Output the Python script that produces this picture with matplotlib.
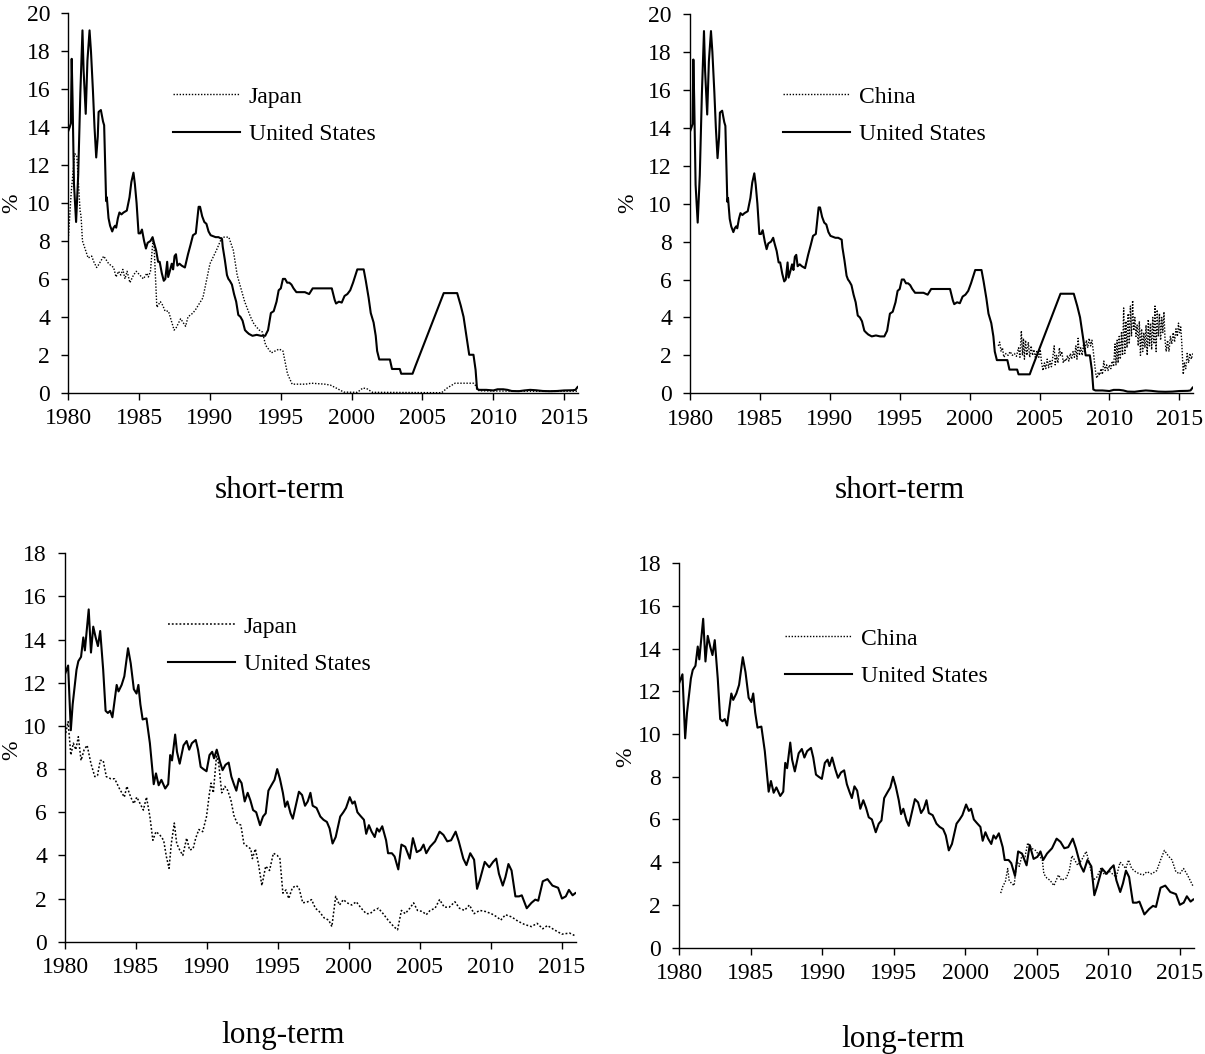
import matplotlib
matplotlib.use("Agg")
import matplotlib.pyplot as plt
import numpy as np

plt.rcParams['font.family'] = ['Liberation Serif', 'DejaVu Serif']

# ---------------- data (decimal years, %) ----------------
us_short_t = [1980.0, 1980.1, 1980.18, 1980.24, 1980.3, 1980.4, 1980.55, 1980.7, 1980.85, 1981.0,
              1981.08, 1981.23, 1981.35, 1981.5, 1981.6, 1981.74, 1981.85, 1981.97, 1982.08, 1982.14,
              1982.3, 1982.45, 1982.53, 1982.67, 1982.72, 1982.84, 1982.95, 1983.1, 1983.2, 1983.3,
              1983.38, 1983.5, 1983.61, 1983.75, 1983.9, 1984.13, 1984.32, 1984.45, 1984.6, 1984.7,
              1984.82, 1984.96, 1985.08, 1985.2, 1985.35, 1985.48, 1985.6, 1985.8, 1985.95, 1986.05,
              1986.2, 1986.34, 1986.45, 1986.6, 1986.74, 1986.85, 1986.98, 1987.05, 1987.2, 1987.3,
              1987.4, 1987.5, 1987.6, 1987.7, 1987.85, 1988.0, 1988.23, 1988.45, 1988.63, 1988.8,
              1989.0, 1989.2, 1989.3, 1989.45, 1989.6, 1989.75, 1989.9, 1990.05, 1990.4, 1990.6,
              1990.85, 1990.9, 1991.05, 1991.2, 1991.3, 1991.4, 1991.55, 1991.7, 1991.85, 1992.0,
              1992.15, 1992.3, 1992.47, 1992.6, 1992.75, 1993.0, 1993.3, 1993.6, 1993.9, 1994.1,
              1994.3, 1994.5, 1994.7, 1994.85, 1995.0, 1995.15, 1995.3, 1995.45, 1995.6, 1995.75,
              1995.9, 1996.1, 1996.4, 1996.7, 1997.0, 1997.25, 1997.6, 1998.0, 1998.3, 1998.6,
              1998.8, 1998.9, 1999.1, 1999.3, 1999.5, 1999.7, 1999.9, 2000.1, 2000.4, 2000.6,
              2000.85, 2001.0, 2001.2, 2001.35, 2001.55, 2001.7, 2001.8, 2001.95, 2002.3, 2002.7,
              2002.85, 2003.4, 2003.5, 2004.3, 2004.5, 2006.5, 2007.45, 2007.7, 2007.9, 2008.1,
              2008.3, 2008.6, 2008.75, 2008.85, 2009.0, 2009.5, 2010.0, 2010.3, 2010.7, 2011.0,
              2011.3, 2011.8, 2012.2, 2012.6, 2013.0, 2013.5, 2014.0, 2014.5, 2015.0, 2015.6,
              2015.8, 2015.95]
us_short_v = [13.8, 14.0, 14.2, 17.6, 15.5, 11.0, 9.0, 11.5, 15.8, 19.1,
              17.0, 14.7, 17.5, 19.1, 18.0, 15.9, 14.0, 12.4, 13.5, 14.8,
              14.9, 14.3, 14.1, 10.1, 10.3, 9.2, 8.8, 8.5, 8.7, 8.8,
              8.7, 9.2, 9.5, 9.4, 9.5, 9.6, 10.3, 11.1, 11.6, 11.0,
              10.0, 8.4, 8.4, 8.6, 8.0, 7.6, 7.9, 8.0, 8.2, 7.9,
              7.5, 6.9, 6.9, 6.3, 5.9, 6.0, 6.9, 6.1, 6.5, 6.8,
              6.5, 7.2, 7.3, 6.7, 6.8, 6.7, 6.6, 7.3, 7.8, 8.3,
              8.4, 9.8, 9.8, 9.3, 9.0, 8.9, 8.5, 8.3, 8.2, 8.2,
              8.1, 7.7, 7.0, 6.2, 6.0, 5.9, 5.7, 5.2, 4.8, 4.1,
              4.0, 3.8, 3.3, 3.2, 3.1, 3.0, 3.05, 3.0, 3.0, 3.3,
              4.2, 4.3, 4.8, 5.4, 5.5, 6.0, 6.0, 5.8, 5.8, 5.7,
              5.5, 5.3, 5.3, 5.3, 5.2, 5.5, 5.5, 5.5, 5.5, 5.5,
              4.9, 4.7, 4.8, 4.75, 5.1, 5.2, 5.4, 5.8, 6.5, 6.5,
              6.5, 5.9, 5.0, 4.2, 3.7, 3.0, 2.2, 1.75, 1.75, 1.75,
              1.25, 1.25, 1.0, 1.0, 1.4, 5.25, 5.25, 4.6, 4.0, 3.0,
              2.0, 2.0, 1.2, 0.2, 0.15, 0.15, 0.12, 0.18, 0.18, 0.15,
              0.09, 0.08, 0.12, 0.15, 0.13, 0.09, 0.08, 0.09, 0.12, 0.13,
              0.15, 0.3]

jp_short_t = [1980.0, 1980.2, 1980.45, 1980.6, 1980.83, 1980.9, 1981.0, 1981.4, 1981.65, 1981.8,
              1982.0, 1982.1, 1982.5, 1982.85, 1983.2, 1983.37, 1983.55, 1983.7, 1983.85, 1984.0,
              1984.15, 1984.35, 1984.6, 1984.8, 1985.3, 1985.55, 1985.65, 1985.8, 1985.97, 1986.05,
              1986.25, 1986.5, 1986.67, 1986.83, 1987.07, 1987.47, 1987.6, 1987.93, 1988.28, 1988.45,
              1988.8, 1989.0, 1989.5, 1990.0, 1990.45, 1990.85, 1991.33, 1991.65, 1991.92, 1992.45,
              1992.86, 1993.12, 1993.48, 1993.7, 1993.93, 1994.33, 1994.88, 1995.15, 1995.47, 1995.8,
              1996.75, 1997.15, 1998.1, 1998.5, 1998.9, 1999.45, 2000.4, 2000.8, 2001.1, 2001.47,
              2006.35, 2006.75, 2007.3, 2008.6, 2008.85, 2009.0, 2010.0, 2012.0, 2014.0, 2016.0]
jp_short_v = [8.1, 10.5, 12.6, 12.5, 9.6, 9.3, 8.0, 7.1, 7.2, 6.9,
              6.6, 6.7, 7.2, 6.8, 6.6, 6.1, 6.4, 6.2, 6.5, 6.0,
              6.4, 5.8, 6.2, 6.4, 6.0, 6.3, 6.1, 6.4, 8.0, 7.8,
              4.5, 4.8, 4.6, 4.3, 4.3, 3.3, 3.4, 3.9, 3.5, 4.0,
              4.2, 4.4, 5.0, 6.8, 7.5, 8.2, 8.2, 7.5, 6.2, 4.8,
              4.0, 3.6, 3.3, 3.2, 2.5, 2.1, 2.3, 2.2, 1.0, 0.45,
              0.45, 0.5, 0.45, 0.4, 0.25, 0.03, 0.02, 0.25, 0.2, 0.02,
              0.0, 0.25, 0.5, 0.5, 0.3, 0.1, 0.09, 0.08, 0.07, 0.08]

cn_short_t = [2002.05, 2002.15, 2002.25, 2002.35, 2002.45, 2002.6, 2002.75, 2002.9, 2003.05, 2003.2,
              2003.35, 2003.5, 2003.6, 2003.7, 2003.78, 2003.85, 2003.92, 2004.0, 2004.1, 2004.2,
              2004.3, 2004.4, 2004.5, 2004.6, 2004.7, 2004.8, 2004.95, 2005.05, 2005.15, 2005.25,
              2005.35, 2005.45, 2005.55, 2005.65, 2005.75, 2005.85, 2005.95, 2006.05, 2006.12, 2006.22,
              2006.32, 2006.42, 2006.5, 2006.6, 2006.7, 2006.8, 2006.9, 2007.0, 2007.1, 2007.2,
              2007.3, 2007.4, 2007.5, 2007.6, 2007.68, 2007.76, 2007.85, 2007.95, 2008.05, 2008.15,
              2008.25, 2008.35, 2008.45, 2008.55, 2008.65, 2008.75, 2008.85, 2008.95, 2009.05, 2009.12,
              2009.2, 2009.3, 2009.4, 2009.5, 2009.6, 2009.7, 2009.8, 2009.9, 2010.0, 2010.1,
              2010.2, 2010.3, 2010.4, 2010.47, 2010.55, 2010.62, 2010.7, 2010.78, 2010.86, 2010.94,
              2011.02, 2011.1, 2011.18, 2011.26, 2011.34, 2011.42, 2011.5, 2011.58, 2011.66, 2011.74,
              2011.82, 2011.9, 2011.98, 2012.06, 2012.14, 2012.22, 2012.3, 2012.38, 2012.46, 2012.54,
              2012.62, 2012.7, 2012.78, 2012.86, 2012.94, 2013.02, 2013.1, 2013.18, 2013.26, 2013.34,
              2013.42, 2013.5, 2013.58, 2013.66, 2013.74, 2013.82, 2013.9, 2013.98, 2014.06, 2014.16,
              2014.26, 2014.36, 2014.46, 2014.56, 2014.66, 2014.76, 2014.86, 2014.94, 2015.02, 2015.1,
              2015.18, 2015.28, 2015.36, 2015.46, 2015.56, 2015.66, 2015.76, 2015.86, 2015.96]
cn_short_v = [2.5, 2.7, 2.2, 2.4, 1.9, 2.1, 2.0, 2.2, 2.0, 2.1,
              1.95, 2.4, 1.9, 3.3, 2.0, 2.9, 1.8, 2.8, 2.0, 2.7,
              1.9, 2.5, 2.0, 2.3, 1.9, 2.2, 1.9, 2.3, 1.6, 1.2,
              1.6, 1.3, 1.8, 1.35, 1.7, 1.4, 1.9, 2.5, 1.5, 2.0,
              1.6, 2.4, 2.0, 2.2, 1.6, 1.8, 1.7, 2.0, 1.7, 2.1,
              1.8, 2.2, 1.9, 2.5, 1.8, 2.9, 2.0, 2.4, 2.0, 2.6,
              2.2, 2.8, 2.4, 2.9, 2.5, 2.8, 2.2, 1.5, 0.9, 0.8,
              1.1, 0.95, 1.3, 1.0, 1.7, 1.2, 1.5, 1.2, 1.5, 1.3,
              1.7, 1.4, 2.6, 1.5, 2.8, 1.6, 3.0, 1.8, 3.2, 2.0,
              4.5, 2.1, 3.8, 2.4, 4.2, 2.6, 4.6, 3.0, 4.9, 3.3,
              4.0, 3.0, 3.6, 2.5, 3.8, 2.0, 3.4, 2.2, 3.2, 2.4,
              3.6, 2.0, 3.9, 2.5, 3.7, 2.3, 4.0, 2.6, 4.6, 2.2,
              4.4, 3.0, 4.2, 2.8, 4.0, 3.2, 4.3, 2.8, 2.2, 2.8,
              2.2, 3.0, 2.6, 3.2, 2.7, 3.4, 3.0, 3.7, 3.2, 3.5,
              2.6, 1.0, 1.6, 1.3, 2.1, 1.6, 2.1, 1.8, 2.1]

us_long_t = [1980.0, 1980.22, 1980.41, 1980.54, 1980.81, 1980.94, 1981.13, 1981.29, 1981.4, 1981.67,
             1981.83, 1981.99, 1982.16, 1982.32, 1982.48, 1982.69, 1982.86, 1983.02, 1983.18, 1983.34,
             1983.64, 1983.77, 1983.99, 1984.18, 1984.44, 1984.63, 1984.85, 1985.04, 1985.17, 1985.31,
             1985.47, 1985.74, 1985.98, 1986.25, 1986.41, 1986.6, 1986.79, 1987.06, 1987.27, 1987.41,
             1987.54, 1987.76, 1987.89, 1988.08, 1988.35, 1988.57, 1988.75, 1988.94, 1989.21, 1989.37,
             1989.56, 1989.75, 1989.97, 1990.18, 1990.37, 1990.5, 1990.69, 1990.91, 1991.1, 1991.31,
             1991.53, 1991.72, 1991.9, 1992.07, 1992.25, 1992.44, 1992.66, 1992.87, 1993.06, 1993.25,
             1993.47, 1993.74, 1993.95, 1994.14, 1994.33, 1994.54, 1994.76, 1994.95, 1995.14, 1995.35,
             1995.51, 1995.67, 1995.89, 1996.05, 1996.29, 1996.48, 1996.7, 1996.91, 1997.1, 1997.29,
             1997.45, 1997.72, 1997.99, 1998.21, 1998.45, 1998.64, 1998.85, 1999.07, 1999.39, 1999.61,
             1999.8, 2000.06, 2000.25, 2000.41, 2000.6, 2000.79, 2001.06, 2001.22, 2001.41, 2001.6,
             2001.82, 2001.98, 2002.14, 2002.35, 2002.62, 2002.76, 2003.03, 2003.22, 2003.48, 2003.7,
             2003.97, 2004.29, 2004.51, 2004.78, 2005.05, 2005.26, 2005.45, 2005.72, 2006.07, 2006.39,
             2006.66, 2006.93, 2007.2, 2007.52, 2007.74, 2008.06, 2008.28, 2008.55, 2008.82, 2009.03,
             2009.22, 2009.57, 2009.89, 2010.16, 2010.38, 2010.57, 2010.84, 2011.03, 2011.24, 2011.46,
             2011.73, 2011.99, 2012.18, 2012.53, 2012.86, 2013.13, 2013.34, 2013.66, 2013.99, 2014.34,
             2014.74, 2015.01, 2015.28, 2015.5, 2015.76, 2015.95]
us_long_v = [12.4, 12.8, 9.8, 11.0, 12.6, 13.0, 13.2, 14.1, 13.5, 15.4,
             13.4, 14.6, 14.1, 13.7, 14.4, 12.6, 10.7, 10.6, 10.7, 10.4,
             11.9, 11.6, 11.9, 12.3, 13.6, 12.9, 11.7, 11.5, 11.9, 11.0,
             10.3, 10.35, 9.2, 7.3, 7.8, 7.25, 7.5, 7.1, 7.3, 8.65,
             8.4, 9.6, 8.8, 8.25, 9.1, 9.3, 8.9, 9.2, 9.35, 8.9,
             8.1, 8.0, 7.9, 8.65, 8.8, 8.5, 8.9, 8.35, 7.95, 8.2,
             8.3, 7.65, 7.3, 7.0, 7.55, 7.35, 6.5, 6.9, 6.55, 6.1,
             6.0, 5.4, 5.8, 5.95, 7.0, 7.25, 7.5, 8.0, 7.55, 6.9,
             6.25, 6.5, 5.95, 5.7, 6.4, 6.95, 6.8, 6.3, 6.5, 6.9,
             6.3, 6.2, 5.8, 5.65, 5.55, 5.25, 4.55, 4.85, 5.8, 6.0,
             6.2, 6.7, 6.4, 6.5, 6.0, 5.85, 5.65, 5.0, 5.4, 5.1,
             4.85, 5.25, 5.1, 5.35, 4.7, 4.1, 4.1, 3.95, 3.35, 4.5,
             4.4, 3.85, 4.8, 4.15, 4.25, 4.5, 4.1, 4.4, 4.65, 5.1,
             4.95, 4.65, 4.7, 5.1, 4.65, 3.85, 3.55, 4.1, 3.8, 2.45,
             2.85, 3.7, 3.45, 3.7, 3.85, 3.15, 2.6, 3.0, 3.6, 3.3,
             2.1, 2.1, 2.15, 1.55, 1.8, 1.95, 1.9, 2.8, 2.9, 2.6,
             2.5, 2.0, 2.1, 2.4, 2.15, 2.25]

jp_long_t = [1980.0, 1980.22, 1980.41, 1980.59, 1980.76, 1980.94, 1981.13, 1981.35, 1981.56, 1981.83,
             1982.1, 1982.29, 1982.48, 1982.69, 1982.91, 1983.23, 1983.5, 1983.83, 1984.18, 1984.36,
             1984.63, 1984.85, 1985.06, 1985.33, 1985.52, 1985.74, 1985.98, 1986.19, 1986.41, 1986.68,
             1986.95, 1987.14, 1987.33, 1987.49, 1987.7, 1987.87, 1988.08, 1988.3, 1988.57, 1988.78,
             1989.02, 1989.21, 1989.43, 1989.7, 1989.97, 1990.18, 1990.29, 1990.45, 1990.67, 1990.83,
             1991.04, 1991.26, 1991.47, 1991.69, 1991.9, 1992.12, 1992.39, 1992.6, 1992.87, 1993.09,
             1993.2, 1993.41, 1993.63, 1993.87, 1994.14, 1994.41, 1994.68, 1994.95, 1995.14, 1995.35,
             1995.57, 1995.76, 1996.02, 1996.29, 1996.48, 1996.75, 1997.1, 1997.37, 1997.64, 1997.91,
             1998.26, 1998.58, 1998.8, 1999.07, 1999.34, 1999.61, 1999.88, 2000.2, 2000.52, 2000.87,
             2001.22, 2001.49, 2001.76, 2002.08, 2002.41, 2002.76, 2003.16, 2003.43, 2003.7, 2003.97,
             2004.29, 2004.56, 2004.83, 2005.18, 2005.45, 2005.72, 2006.07, 2006.39, 2006.72, 2007.07,
             2007.47, 2007.79, 2008.14, 2008.49, 2008.82, 2009.22, 2009.62, 2010.03, 2010.43, 2010.7,
             2011.03, 2011.46, 2011.91, 2012.37, 2012.86, 2013.26, 2013.66, 2013.99, 2014.47, 2015.01,
             2015.55, 2015.95]
jp_long_v = [9.5, 10.2, 8.65, 9.2, 8.9, 9.5, 8.4, 8.9, 9.1, 8.25,
             7.65, 7.7, 8.4, 8.4, 7.65, 7.55, 7.55, 7.1, 6.7, 7.2,
             6.7, 6.4, 6.7, 6.35, 6.1, 6.7, 5.8, 4.7, 5.1, 4.95,
             4.7, 3.95, 3.4, 4.55, 5.5, 4.55, 4.25, 4.0, 4.8, 4.25,
             4.3, 4.8, 5.2, 5.1, 5.8, 6.9, 7.35, 6.9, 8.6, 8.25,
             6.9, 7.2, 7.0, 6.55, 5.85, 5.5, 5.4, 4.55, 4.4, 4.3,
             3.85, 4.3, 3.6, 2.6, 3.5, 3.3, 4.1, 4.0, 3.85, 2.25,
             2.4, 2.0, 2.5, 2.6, 2.5, 1.8, 1.85, 1.95, 1.55, 1.4,
             1.1, 1.0, 0.7, 2.1, 1.7, 1.95, 1.8, 1.7, 1.85, 1.55,
             1.3, 1.3, 1.45, 1.55, 1.3, 1.0, 0.7, 0.55, 1.45, 1.3,
             1.55, 1.8, 1.45, 1.4, 1.25, 1.45, 1.55, 1.95, 1.6, 1.6,
             1.85, 1.55, 1.45, 1.7, 1.3, 1.45, 1.4, 1.3, 1.15, 1.0,
             1.25, 1.15, 0.95, 0.8, 0.7, 0.85, 0.6, 0.75, 0.55, 0.35,
             0.4, 0.27]

cn_long_t = [2002.48, 2002.62, 2002.81, 2002.97, 2003.07, 2003.24, 2003.42, 2003.61, 2003.78, 2003.96,
             2004.18, 2004.37, 2004.64, 2004.91, 2005.18, 2005.39, 2005.5, 2005.71, 2005.93, 2006.2,
             2006.52, 2006.74, 2007.06, 2007.28, 2007.46, 2007.65, 2007.87, 2008.14, 2008.46, 2008.68,
             2008.94, 2009.21, 2009.48, 2009.75, 2010.02, 2010.29, 2010.56, 2010.83, 2011.04, 2011.23,
             2011.42, 2011.64, 2011.91, 2012.18, 2012.44, 2012.71, 2013.04, 2013.39, 2013.66, 2013.93,
             2014.19, 2014.46, 2014.73, 2015.0, 2015.27, 2015.54, 2015.95]
cn_long_v = [2.55, 2.85, 3.1, 3.7, 3.15, 3.0, 2.9, 4.1, 3.8, 4.3,
             4.25, 4.9, 4.65, 4.55, 4.3, 4.1, 3.45, 3.25, 3.15, 2.9,
             3.4, 3.15, 3.25, 3.6, 4.3, 4.1, 3.85, 4.1, 4.5, 3.95,
             3.15, 3.3, 3.7, 3.4, 3.6, 3.45, 3.3, 4.0, 3.85, 3.7,
             4.1, 3.7, 3.55, 3.45, 3.4, 3.55, 3.45, 3.6, 4.1, 4.55,
             4.3, 4.1, 3.55, 3.45, 3.7, 3.4, 2.85]

year_ticks = [1980, 1985, 1990, 1995, 2000, 2005, 2010, 2015]
panel_titles = ["short-term", "short-term", "long-term", "long-term"]
other_names = ["Japan", "China", "Japan", "China"]
us_name = "United States"

# ---------------- layout ----------------
W, H = 1205, 1054
fig = plt.figure(figsize=(W / 100, H / 100), dpi=100)


def add_axes_px(x0, x1, y0, y1):
    # x0: px of 1980, x1: px of 2016, y0: px of y=0, y1: px of top
    return fig.add_axes([x0 / W, 1 - y0 / H, (x1 - x0) / W, (y0 - y1) / H])


panels = [
    dict(box=(68.3, 578.3, 392.7, 13.3), ymax=20, other=(jp_short_t, jp_short_v), us=(us_short_t, us_short_v),
         leg=(173, 86), title=(280, 490), ylab=(12, 203), dash=(0, (1, 1.2)), dlw=1.0),
    dict(box=(690, 1193.3, 393.3, 14), ymax=20, other=(cn_short_t, cn_short_v), us=(us_short_t, us_short_v),
         leg=(783, 86), title=(900, 490), ylab=(628, 203), dash=(0, (1, 1.2)), dlw=1.0),
    dict(box=(65, 576, 941.7, 553.3), ymax=18, other=(jp_long_t, jp_long_v), us=(us_long_t, us_long_v),
         leg=(168, 616), title=(283, 1035), ylab=(12, 750), dash=(0, (1.2, 1.3)), dlw=1.1),
    dict(box=(679.3, 1194, 947.5, 563.3), ymax=18, other=(cn_long_t, cn_long_v), us=(us_long_t, us_long_v),
         leg=(785, 628), title=(903, 1040), ylab=(626, 757), dash=(0, (1, 1.2)), dlw=1.0),
]

for i, p in enumerate(panels):
    ax = add_axes_px(*p['box'])
    ax.plot(p['other'][0], p['other'][1], color='black', linestyle=p['dash'], linewidth=p['dlw'],
            label=other_names[i])
    ax.plot(p['us'][0], p['us'][1], color='black', linestyle='-', linewidth=1.5, label=us_name)
    ax.set_xlim(1980, 2016)
    ax.set_ylim(0, p['ymax'])
    ax.set_xticks(year_ticks)
    ax.set_yticks(np.arange(0, p['ymax'] + 1, 2))
    for s in ['top', 'right']:
        ax.spines[s].set_visible(False)
    for s in ['left', 'bottom']:
        ax.spines[s].set_linewidth(1.0)
    ax.tick_params(axis='both', direction='out', length=5, width=1.0, labelsize=17)
    ax.tick_params(axis='x', pad=6)
    ax.tick_params(axis='y', pad=8)
    lx, ly = p['leg']
    ax.legend(loc='upper left', bbox_to_anchor=(lx / W, 1 - ly / H), bbox_transform=fig.transFigure,
              frameon=False, fontsize=17, handlelength=2.85, handletextpad=0.35, labelspacing=0.68,
              borderpad=0, borderaxespad=0)
    tx, ty = p['title']
    fig.text(tx / W, 1 - ty / H, panel_titles[i], ha='center', va='center', fontsize=22.5)
    yx, yy = p['ylab']
    fig.text(yx / W, 1 - yy / H, "%", ha='center', va='center', rotation=90, fontsize=17)

fig.savefig("out.png", dpi=100)
